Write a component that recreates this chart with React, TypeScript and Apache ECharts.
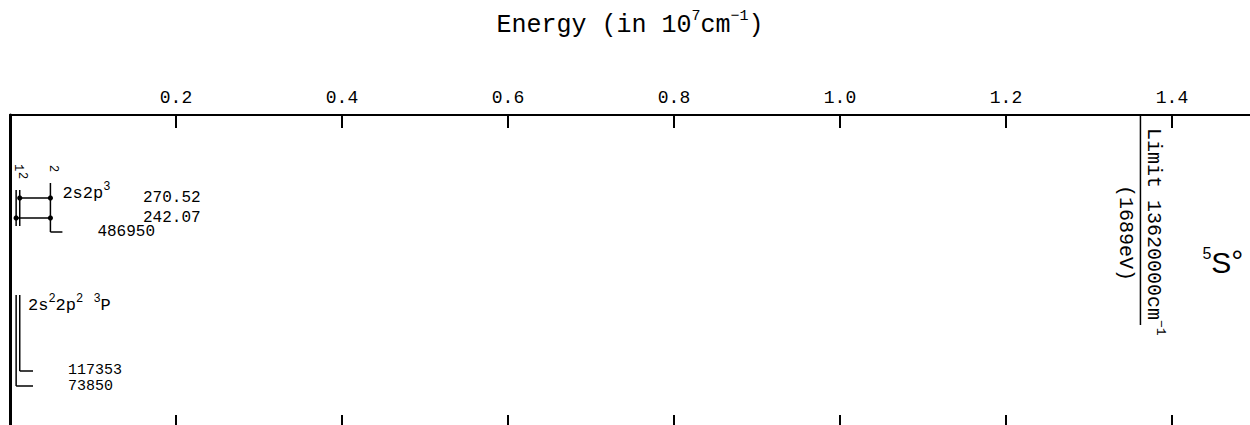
import React, { useEffect, useRef } from "react";
import * as echarts from "echarts";

// Energy axis, in units of 10^7 cm^-1
const axisMin = 0;
const axisMax = 1.494;
const axisInterval = 0.2;
const energyTicks = [0.2, 0.4, 0.6, 0.8, 1.0, 1.2, 1.4];

// Energy levels (cm^-1), their J values and term index
const levelEnergy = [73850, 117353, 486950];
const levelJ = [1, 2, 2];
const levelTerm = [0, 0, 1];

// Terms (rich-text markup for superscripts)
const termConfig = ["2s{sup|2}2p{sup|2}", "2s2p{sup|3}"];
const termSymbol = ["{sup|3}P", "{ss|5}{big|S}{deg|°}"];

// Transitions: indices into the level arrays, wavelengths in Å
const transitionUpper = [2, 2];
const transitionLower = [1, 0];
const transitionWavelength = ["270.52", "242.07"];

// Ionization limit
const limitCm = 13620000;
const limitEv = 1689;

const MONO = "'Liberation Mono', 'DejaVu Sans Mono', monospace";
const SANS = "'Liberation Sans', 'DejaVu Sans', sans-serif";
const INK = "#000";

const GRID_LEFT = 10;
const GRID_TOP = 115;
const GRID_HEIGHT = 310;

const toAxis = (cm: number) => cm / 1e7;

const sup = (size: number, family: string = MONO) => ({
  fontFamily: family,
  fontSize: size,
  verticalAlign: "top",
  fill: INK,
});

export default function App() {
  const ref = useRef<HTMLDivElement>(null);

  useEffect(() => {
    if (!ref.current) return;
    const chart = echarts.init(ref.current, null, { renderer: "svg" });

    const pt = (api: any, value: number, absY: number) =>
      api.coord([value, absY - GRID_TOP]);
    const lineEl = (x1: number, y1: number, x2: number, y2: number, w = 1.5) => ({
      type: "line",
      shape: { x1, y1, x2, y2 },
      style: { stroke: INK, lineWidth: w },
    });
    const textEl = (x: number, y: number, text: string, o: any = {}) => ({
      type: "text",
      x,
      y,
      rotation: o.rotation || 0,
      style: {
        text,
        fill: INK,
        fontFamily: o.fontFamily || MONO,
        fontSize: o.fontSize || 16,
        align: o.align || "left",
        verticalAlign: "middle",
        lineHeight: o.lineHeight,
        rich: o.rich,
      },
    });
    const dot = (cx: number, cy: number) => ({
      type: "circle",
      shape: { cx, cy, r: 2.6 },
      style: { fill: INK },
    });

    const limitX = (api: any) => pt(api, toAxis(limitCm), 0)[0];

    const option: any = {
      animation: false,
      backgroundColor: "#fff",
      grid: { left: GRID_LEFT, top: GRID_TOP, right: 0, height: GRID_HEIGHT },
      xAxis: [
        {
          type: "value",
          position: "top",
          min: axisMin,
          max: axisMax,
          interval: axisInterval,
          name: "Energy (in 10{sup|7}cm{sup|−1})",
          nameLocation: "middle",
          nameGap: 74,
          nameTextStyle: {
            fontFamily: MONO,
            fontSize: 25,
            color: INK,
            lineHeight: 32,
            rich: { sup: { fontFamily: MONO, fontSize: 15, verticalAlign: "top", color: INK } },
          },
          axisLine: { show: true, onZero: false, lineStyle: { color: INK, width: 2 } },
          axisTick: {
            show: true,
            inside: true,
            length: 13,
            customValues: energyTicks,
            lineStyle: { color: INK, width: 2 },
          },
          axisLabel: {
            show: true,
            margin: 8,
            fontFamily: MONO,
            fontSize: 18,
            color: INK,
            customValues: energyTicks,
            formatter: (v: number) => v.toFixed(1),
          },
          splitLine: { show: false },
        },
        {
          type: "value",
          position: "bottom",
          min: axisMin,
          max: axisMax,
          interval: axisInterval,
          axisLine: { show: false, onZero: false },
          axisTick: {
            show: true,
            inside: true,
            length: 10,
            customValues: energyTicks,
            lineStyle: { color: INK, width: 2 },
          },
          axisLabel: { show: false },
          splitLine: { show: false },
        },
      ],
      yAxis: {
        type: "value",
        min: 0,
        max: GRID_HEIGHT,
        inverse: true,
        axisLine: { show: true, onZero: false, lineStyle: { color: INK, width: 3 } },
        axisTick: { show: false },
        axisLabel: { show: false },
        splitLine: { show: false },
      },
      series: [
        {
          type: "custom",
          name: "levels",
          xAxisIndex: 0,
          yAxisIndex: 0,
          clip: false,
          silent: true,
          encode: { x: 0, y: 1 },
          data: levelEnergy.map((e, i) => [toAxis(e), i]),
          renderItem: (params: any, api: any) => {
            const i = api.value(1) as number;
            const x = pt(api, api.value(0), 0)[0];
            const x0 = pt(api, 0, 0)[0];
            const y = (abs: number) => pt(api, 0, abs)[1];
            const children: any[] = [];
            if (levelTerm[i] === 0) {
              const rank = levelEnergy.filter(
                (v, k) => levelTerm[k] === 0 && v < levelEnergy[i]
              ).length;
              const hookY = y(386 - 15 * rank);
              children.push(lineEl(x, y(295), x, hookY));
              children.push(lineEl(x, hookY, x0 + 23, hookY));
              children.push(
                textEl(x0 + 58, y(386 - 16 * rank), String(levelEnergy[i]), {
                  fontSize: 15,
                  lineHeight: 14,
                })
              );
              if (rank === 0) {
                children.push(
                  textEl(x0 + 18, y(305), termConfig[0] + " " + termSymbol[0], {
                    fontSize: 17,
                    lineHeight: 24,
                    rich: { sup: sup(12) },
                  })
                );
              }
            } else {
              const hookY = y(232);
              children.push(lineEl(x, y(183), x, hookY));
              children.push(lineEl(x, hookY, x + 12, hookY));
              children.push(textEl(x + 47, hookY, String(levelEnergy[i]), { fontSize: 16 }));
              children.push(
                textEl(x + 3, y(165), String(levelJ[i]), { fontSize: 12, rotation: -Math.PI / 2 })
              );
              children.push(
                textEl(x + 12, y(193), termConfig[1], {
                  fontSize: 17,
                  lineHeight: 24,
                  rich: { sup: sup(12) },
                })
              );
              children.push(
                textEl(limitX(api) + 62, y(262), termSymbol[1], {
                  fontSize: 28,
                  fontFamily: SANS,
                  lineHeight: 34,
                  rich: {
                    ss: sup(16, SANS),
                    big: { fontFamily: SANS, fontSize: 30, fill: INK },
                    deg: sup(30, SANS),
                  },
                })
              );
            }
            return { type: "group", children };
          },
        },
        {
          type: "custom",
          name: "transitions",
          xAxisIndex: 0,
          yAxisIndex: 0,
          clip: false,
          silent: true,
          encode: { x: [0, 1] },
          data: transitionUpper.map((u, t) => [
            toAxis(levelEnergy[u]),
            toAxis(levelEnergy[transitionLower[t]]),
            t,
          ]),
          renderItem: (params: any, api: any) => {
            const t = api.value(2) as number;
            const xu = pt(api, api.value(0), 0)[0];
            const xl = pt(api, api.value(1), 0)[0];
            const x0 = pt(api, 0, 0)[0];
            const y = (abs: number) => pt(api, 0, abs)[1];
            const rowY = y(198 + 20 * t);
            return {
              type: "group",
              children: [
                lineEl(xl, y(190), xl, y(226)),
                lineEl(xl, rowY, xu, rowY),
                dot(xl, rowY),
                dot(xu, rowY),
                textEl(xl + 2, y(172 - 8 * t), String(levelJ[transitionLower[t]]), {
                  fontSize: 12,
                  rotation: -Math.PI / 2,
                }),
                textEl(x0 + 133, rowY, transitionWavelength[t], { fontSize: 16 }),
              ],
            };
          },
        },
        {
          type: "custom",
          name: "limit",
          xAxisIndex: 0,
          yAxisIndex: 0,
          clip: false,
          silent: true,
          encode: { x: 0 },
          data: [[toAxis(limitCm), 0]],
          renderItem: (params: any, api: any) => {
            const x = pt(api, api.value(0), 0)[0];
            const y = (abs: number) => pt(api, 0, abs)[1];
            return {
              type: "group",
              children: [
                lineEl(x, y(GRID_TOP), x, y(325)),
                textEl(x + 13, y(128), "Limit " + limitCm + "cm{sup|−1}", {
                  fontSize: 20,
                  lineHeight: 28,
                  rotation: -Math.PI / 2,
                  rich: { sup: sup(13) },
                }),
                textEl(x - 15, y(185), "(" + limitEv + "eV)", {
                  fontSize: 20,
                  rotation: -Math.PI / 2,
                }),
              ],
            };
          },
        },
      ],
    };

    chart.setOption(option);
    return () => chart.dispose();
  }, []);

  return (
    <div
      ref={ref}
      style={{ position: "fixed", left: 0, top: 0, width: 1250, height: 425, background: "#fff" }}
    />
  );
}
